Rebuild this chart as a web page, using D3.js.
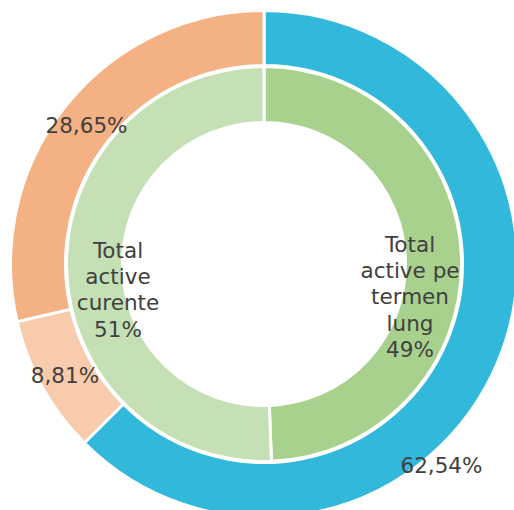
<!DOCTYPE html>
<html>
<head>
<meta charset="utf-8">
<script src="https://cdn.jsdelivr.net/npm/d3@7"></script>
<style>
  html, body { margin: 0; padding: 0; background: #fff; }
  svg { display: block; }
  text { font-family: "DejaVu Sans", Verdana, sans-serif; fill: #404040; font-size: 21.5px; }
</style>
</head>
<body>
<script>
// ---- Data ----
const outerCategories = ["Total active pe termen lung", "Active circulante A", "Active circulante B"];
const outerValues = [62.54, 8.81, 28.65];
const outerLabels = ["62,54%", "8,81%", "28,65%"];
const outerColors = ["#31B8DA", "#F8CBAD", "#F4B183"];

const innerCategories = ["Total active pe termen lung", "Total active curente"];
const innerValues = [49.4, 50.6];
const innerLabels = [["Total", "active pe", "termen", "lung", "49%"], ["Total", "active", "curente", "51%"]];
const innerColors = ["#A9D18E", "#C5E0B4"];

// ---- Layout ----
const W = 514, H = 510;
const cx = 264, cy = 264;
const outerR = [198.5, 253.5];
const innerR = [141.5, 197.5];
// label anchors relative to centre (x centre, y of first baseline)
const outerLabelPos = [[177.5, 209], [-199, 119], [-177.5, -131]];
const innerLabelPos = [[146, -12], [-146, -6]];
const lineH = 26.2;

const svg = d3.select("body").append("svg").attr("width", W).attr("height", H);
const g = svg.append("g").attr("transform", `translate(${cx},${cy})`);

const pie = d3.pie().sort(null).value(d => d);

function ring(values, colors, radii) {
  const arc = d3.arc().innerRadius(radii[0]).outerRadius(radii[1]);
  g.append("g").selectAll("path")
    .data(pie(values))
    .join("path")
    .attr("d", arc)
    .attr("fill", (d, i) => colors[i])
    .attr("stroke", "#fff")
    .attr("stroke-width", 3)
    .attr("stroke-linejoin", "miter");
}

ring(outerValues, outerColors, outerR);
ring(innerValues, innerColors, innerR);

// outer labels
g.append("g").selectAll("text")
  .data(outerLabels)
  .join("text")
  .attr("x", (d, i) => outerLabelPos[i][0])
  .attr("y", (d, i) => outerLabelPos[i][1])
  .attr("text-anchor", "middle")
  .text(d => d);

// inner labels
innerLabels.forEach((lines, i) => {
  const t = g.append("text")
    .attr("text-anchor", "middle");
  lines.forEach((ln, j) => {
    t.append("tspan")
      .attr("x", innerLabelPos[i][0])
      .attr("y", innerLabelPos[i][1] + j * lineH)
      .text(ln);
  });
});
</script>
</body>
</html>
